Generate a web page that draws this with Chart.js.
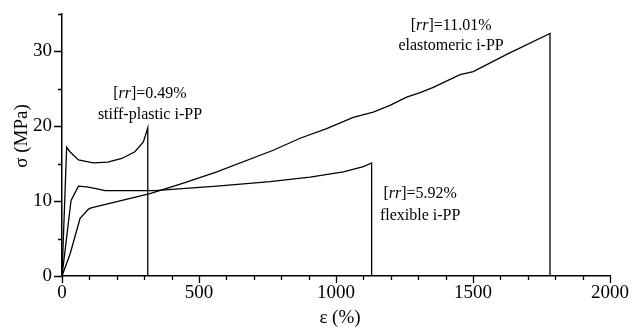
<!DOCTYPE html>
<html>
<head>
<meta charset="utf-8">
<script src="https://cdn.jsdelivr.net/npm/chart.js@4/dist/chart.umd.min.js"></script>
<style>
  html, body { margin: 0; padding: 0; background: #fff; }
  #wrap { width: 632px; height: 327px; }
</style>
</head>
<body>
<div id="wrap"><canvas id="chart"></canvas></div>
<script>
// strain (%) / stress (MPa)
const stiffStrain = [0, 17, 29, 60, 114, 167, 218, 266, 297, 313, 313];
const stiffStress = [0, 17.2, 16.6, 15.5, 15.1, 15.2, 15.7, 16.6, 17.9, 19.8, 0];

const flexStrain = [0, 33, 60, 90, 120, 157, 339, 565, 759, 905, 1027, 1100, 1130, 1130];
const flexStress = [0, 10.1, 12.0, 11.9, 11.7, 11.4, 11.4, 12.0, 12.6, 13.2, 13.9, 14.6, 15.1, 0];

const elastStrain = [0, 30, 66, 96, 106, 321, 443, 565, 771, 869, 966, 1063, 1136, 1197, 1258, 1307, 1355, 1453, 1501, 1623, 1781, 1781];
const elastStress = [0, 3.0, 7.7, 8.9, 9.1, 11.0, 12.4, 13.9, 16.8, 18.4, 19.7, 21.2, 21.9, 22.8, 23.9, 24.5, 25.2, 26.9, 27.3, 29.6, 32.4, 0];

const rrValues = ['0.49', '5.92', '11.01'];
const sampleNames = ['stiff-plastic i-PP', 'flexible i-PP', 'elastomeric i-PP'];

const xMajorTicks = [0, 500, 1000, 1500, 2000];
const yMajorTicks = [0, 10, 20, 30];

const xTitle = 'ε (%)';
const yTitle = 'σ (MPa)';

const FONT = '"Liberation Serif", "Times New Roman", serif';

function toPoints(xs, ys) {
    return xs.map((x, i) => ({ x: x, y: ys[i] }));
}

function curve(xs, ys) {
    return {
        data: toPoints(xs, ys),
        borderColor: '#000',
        borderWidth: 1.3,
        pointRadius: 0,
        tension: 0,
        fill: false
    };
}

// small outward tick marks, longer on the labelled values
const tickMarks = {
    id: 'tickMarks',
    afterDraw(chart) {
        const ctx = chart.ctx;
        const xs = chart.scales.x, ys = chart.scales.y;
        ctx.save();
        ctx.strokeStyle = '#000';
        ctx.lineWidth = 1.3;
        ctx.beginPath();
        for (let v = xs.min; v <= xs.max; v += 100) {
            const px = Math.round(xs.getPixelForValue(v)) + 0.5;
            const len = xMajorTicks.includes(v) ? 7 : 4;
            ctx.moveTo(px, ys.bottom);
            ctx.lineTo(px, ys.bottom + len);
        }
        for (let v = ys.min; v <= ys.max; v += 5) {
            const py = Math.round(ys.getPixelForValue(v)) + 0.5;
            const len = yMajorTicks.includes(v) ? 8 : 4;
            ctx.moveTo(xs.left, py);
            ctx.lineTo(xs.left - len, py);
        }
        ctx.stroke();
        ctx.restore();
    }
};

// axis titles, placed where the original has them
const axisTitles = {
    id: 'axisTitles',
    afterDraw(chart) {
        const ctx = chart.ctx;
        const xs = chart.scales.x;
        ctx.save();
        ctx.fillStyle = '#000';
        ctx.font = '19px ' + FONT;
        ctx.textAlign = 'center';
        ctx.textBaseline = 'middle';
        ctx.fillText(xTitle, (xs.left + xs.right) / 2 + 4, 318);
        ctx.translate(22, 136);
        ctx.rotate(-Math.PI / 2);
        ctx.fillText(yTitle, 0, 0);
        ctx.restore();
    }
};

// curve labels: "[rr]=..%" with italic rr, sample name below
const curveLabels = {
    id: 'curveLabels',
    afterDraw(chart, args, opts) {
        const ctx = chart.ctx;
        const xs = chart.scales.x, ys = chart.scales.y;
        ctx.save();
        ctx.fillStyle = '#000';
        ctx.textBaseline = 'middle';
        opts.anchors.forEach((a, i) => {
            const cx = xs.getPixelForValue(a.x);
            const y1 = ys.getPixelForValue(a.y1);
            const y2 = ys.getPixelForValue(a.y2);
            const parts = [
                ['[', 'normal'],
                ['rr', 'italic'],
                [']=' + rrValues[i] + '%', 'normal']
            ];
            let total = 0;
            parts.forEach(p => {
                ctx.font = p[1] + ' 16px ' + FONT;
                total += ctx.measureText(p[0]).width;
            });
            let x = cx - total / 2;
            ctx.textAlign = 'left';
            parts.forEach(p => {
                ctx.font = p[1] + ' 16px ' + FONT;
                ctx.fillText(p[0], x, y1);
                x += ctx.measureText(p[0]).width;
            });
            ctx.font = '16px ' + FONT;
            ctx.textAlign = 'center';
            ctx.fillText(sampleNames[i], cx, y2);
        });
        ctx.restore();
    }
};

new Chart(document.getElementById('chart'), {
    type: 'line',
    data: {
        datasets: [
            curve(stiffStrain, stiffStress),
            curve(flexStrain, flexStress),
            curve(elastStrain, elastStress)
        ]
    },
    options: {
        responsive: true,
        maintainAspectRatio: false,
        animation: false,
        layout: { padding: { top: 14, right: 22, left: 0, bottom: 0 } },
        plugins: {
            legend: { display: false },
            tooltip: { enabled: false },
            curveLabels: {
                anchors: [
                    { x: 321, y1: 24.3, y2: 21.6 },
                    { x: 1307, y1: 11.0, y2: 8.1 },
                    { x: 1420, y1: 33.4, y2: 30.7 }
                ]
            }
        },
        scales: {
            x: {
                type: 'linear',
                min: 0,
                max: 2000,
                afterFit(scale) {
                    scale.height = 51;
                    scale.paddingLeft = 0;
                    scale.paddingRight = 0;
                },
                grid: { display: false, drawTicks: false },
                border: { display: true, color: '#000', width: 1.5 },
                ticks: {
                    stepSize: 500,
                    padding: 6,
                    maxRotation: 0,
                    color: '#000',
                    font: { family: FONT, size: 19 },
                    callback: v => String(v)
                },
                title: { display: false }
            },
            y: {
                type: 'linear',
                min: 0,
                max: 35,
                afterFit(scale) {
                    scale.width = 62;
                    scale.paddingTop = 0;
                    scale.paddingBottom = 0;
                },
                afterBuildTicks(scale) {
                    scale.ticks = yMajorTicks.map(v => ({ value: v }));
                },
                grid: { display: false, drawTicks: false },
                border: { display: true, color: '#000', width: 1.5 },
                ticks: {
                    padding: 10,
                    color: '#000',
                    font: { family: FONT, size: 19 },
                    callback: v => String(v)
                },
                title: { display: false }
            }
        }
    },
    plugins: [tickMarks, axisTitles, curveLabels]
});
</script>
</body>
</html>
